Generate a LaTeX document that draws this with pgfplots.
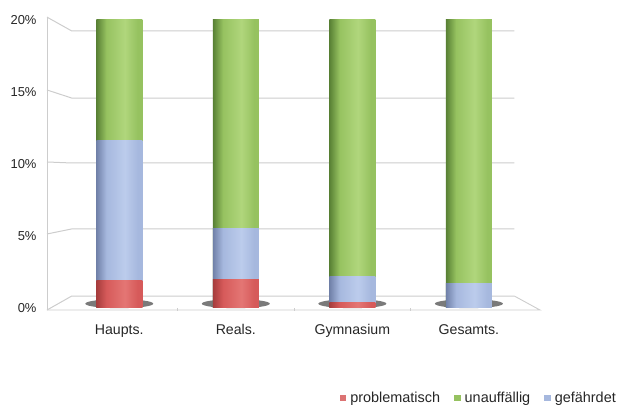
\documentclass[border=0pt]{standalone}
\usepackage{fontspec}
\setmainfont{Liberation Sans}
\usepackage{pgfplots}
\pgfplotsset{compat=1.18}

% segment colours (mid, dark edge, highlight)
\definecolor{redM}{RGB}{214,90,90}
\definecolor{redD}{RGB}{165,60,60}
\definecolor{redL}{RGB}{228,118,116}
\definecolor{blueM}{RGB}{166,184,222}
\definecolor{blueD}{RGB}{112,128,168}
\definecolor{blueL}{RGB}{188,204,236}
\definecolor{greenM}{RGB}{150,194,96}
\definecolor{greenD}{RGB}{88,128,52}
\definecolor{greenL}{RGB}{176,214,124}
\definecolor{gridc}{RGB}{205,205,205}

% cylinder-like horizontal shadings
\pgfdeclarehorizontalshading{cylred}{100bp}{color(0bp)=(redD); color(25bp)=(redD); color(36bp)=(redM); color(56bp)=(redL); color(70bp)=(redM); color(75bp)=(redM); color(100bp)=(redM)}
\pgfdeclarehorizontalshading{cylblue}{100bp}{color(0bp)=(blueD); color(25bp)=(blueD); color(36bp)=(blueM); color(56bp)=(blueL); color(70bp)=(blueM); color(75bp)=(blueM); color(100bp)=(blueM)}
\pgfdeclarehorizontalshading{cylgreen}{100bp}{color(0bp)=(greenD); color(25bp)=(greenD); color(36bp)=(greenM); color(56bp)=(greenL); color(70bp)=(greenM); color(75bp)=(greenM); color(100bp)=(greenM)}

\pgfplotsset{
  segR/.style={forget plot, draw=none, shade, shading=cylred},
  segB/.style={forget plot, draw=none, shade, shading=cylblue},
  segG/.style={forget plot, draw=none, shade, shading=cylgreen},
}

\begin{document}
\begin{tikzpicture}
\useasboundingbox (0,0) rectangle (622bp,407bp);
\begin{axis}[
  at={(47bp,99bp)}, anchor=south west,
  scale only axis, width=493bp, height=288bp,
  xmin=-0.62, xmax=3.61, ymin=0, ymax=20,
  clip mode=individual,
  axis line style={draw=none},
  ybar, bar width=46bp, bar shift=0pt,
  xtick={0,1,2,3},
  xticklabels={Haupts., Reals., Gymnasium, Gesamts.},
  extra x ticks={0.5,1.5,2.5}, extra x tick labels={},
  extra x tick style={major tick length=3bp, tick style={gridc, line width=0.8bp}},
  xtick pos=bottom, ytick pos=left,
  tick align=outside,
  major tick length=0pt,
  ytick={0,5,10,15,20},
  yticklabel={\pgfmathprintnumber{\tick}\%},
  /pgf/number format/assume math mode=true,
  tick label style={text=black!85},
  yticklabel style={font=\fontsize{13}{15}\selectfont, xshift=-7bp},
  xticklabel style={font=\fontsize{14.2}{16}\selectfont, yshift=-13bp},
  legend image code/.code={\fill[#1, draw=none] (0bp,-3bp) rectangle (6.5bp,3.5bp);},
  legend style={at={(rel axis cs:1.1623,-0.3125)}, anchor=east,
    draw=none, fill=none, legend columns=3,
    font=\fontsize{14.5}{16}\selectfont,
    nodes={inner sep=1bp, text=black!85},
    /tikz/every odd column/.append style={column sep=3bp},
    /tikz/every even column/.append style={column sep=13bp}},
]
% side wall, back wall grid lines and floor
\draw[gridc, line width=0.9bp] (axis cs:-0.62,-0.14) -- (axis cs:-0.62,20.2);
\draw[gridc, line width=1bp] (axis cs:-0.62,20.2) -- (axis cs:-0.408,19.24) -- (axis cs:3.39,19.24);
\draw[gridc, line width=1bp] (axis cs:-0.62,15.14) -- (axis cs:-0.408,14.58) -- (axis cs:3.39,14.58);
\draw[gridc, line width=1bp] (axis cs:-0.62,10.14) -- (axis cs:-0.408,10.07) -- (axis cs:3.39,10.07);
\draw[gridc, line width=1bp] (axis cs:-0.62,5.14) -- (axis cs:-0.408,5.49) -- (axis cs:3.39,5.49);
\draw[gridc, line width=1bp] (axis cs:-0.62,-0.14) -- (axis cs:-0.408,0.83) -- (axis cs:3.39,0.83);
\draw[gridc, line width=0.9bp] (axis cs:-0.62,-0.14) -- (axis cs:3.61,-0.14) -- (axis cs:3.39,0.83);
% base shadows of the columns
\pgfplotsinvokeforeach{0,1,2,3}{
  \fill[black!65, opacity=0.8] (axis cs:#1,0.3) ellipse [x radius=34bp, y radius=4.5bp];
}
% columns, each drawn back to front: top of unauffaellig (100 %),
% top of gefaehrdet, top of problematisch
% Haupts.
\addplot[segG] coordinates {(0,100)};
\addplot[segB] coordinates {(0,11.6)};
\addplot[segR] coordinates {(0,1.9)};
% Reals.
\addplot[segG] coordinates {(1,100)};
\addplot[segB] coordinates {(1,5.5)};
\addplot[segR] coordinates {(1,2.0)};
% Gymnasium
\addplot[segG] coordinates {(2,100)};
\addplot[segB] coordinates {(2,2.2)};
\addplot[segR] coordinates {(2,0.4)};
% Gesamts.
\addplot[segG] coordinates {(3,100)};
\addplot[segB] coordinates {(3,1.7)};
% legend
\addlegendimage{fill=redM!85}
\addlegendentry{problematisch}
\addlegendimage{fill=greenM}
\addlegendentry{unauffällig}
\addlegendimage{fill=blueM}
\addlegendentry{gefährdet}
\end{axis}
\end{tikzpicture}
\end{document}
